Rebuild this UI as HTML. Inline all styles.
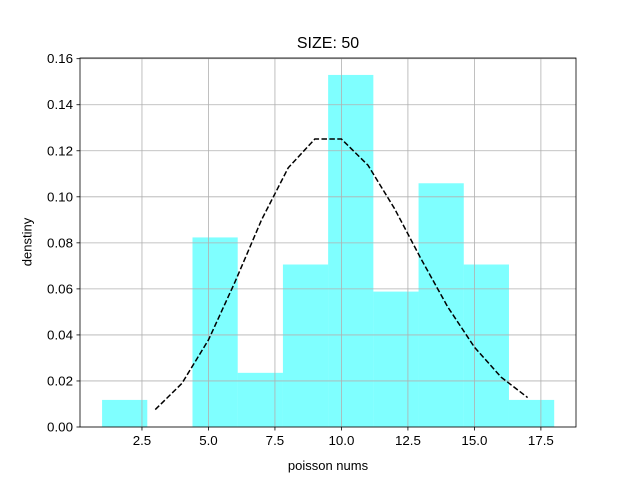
<!DOCTYPE html>
<html><head><meta charset="utf-8"><style>
body{margin:0;background:#fff}
svg{display:block;font-family:"Liberation Sans","DejaVu Sans",sans-serif}
</style></head><body>
<svg id="chart" width="640" height="480"></svg>
<script>
const binEdges=[1,2.7,4.4,6.1,7.8,9.5,11.2,12.9,14.6,16.3,18];
const binCounts=[1,0,7,2,6,13,5,9,6,1];
const sampleSize=50;
const pmfK=[3,4,5,6,7,8,9,10,11,12,13,14,15,16,17];
const pmfValues=[0.00757,0.01892,0.03783,0.06306,0.09008,0.1126,0.1251,0.1251,0.1137,0.0948,0.0729,0.0521,0.0347,0.0217,0.0128];
const xTicks=[2.5,5.0,7.5,10.0,12.5,15.0,17.5];
const xTickLabels=["2.5","5.0","7.5","10.0","12.5","15.0","17.5"];
const yTicks=[0,0.02,0.04,0.06,0.08,0.10,0.12,0.14,0.16];
const yTickLabels=["0.00","0.02","0.04","0.06","0.08","0.10","0.12","0.14","0.16"];

const L=80,R=576,T=58,B=427;
const xMin=0.17,xMax=18.82,yMin=0,yMax=0.1603;
const X=v=>L+(v-xMin)/(xMax-xMin)*(R-L);
const Y=v=>B-(v-yMin)/(yMax-yMin)*(B-T);
const svg=document.getElementById('chart');
const NS='http://www.w3.org/2000/svg';
function mk(tag,attrs,parent){const e=document.createElementNS(NS,tag);for(const k in attrs)e.setAttribute(k,attrs[k]);(parent||svg).appendChild(e);return e;}

const bars=mk('g',{});


binCounts.forEach((c,i)=>{
  const d=c/(sampleSize*(binEdges[i+1]-binEdges[i]));
  if(d<=0)return;
  const r=mk('rect',{x:X(binEdges[i]),y:Y(d),width:X(binEdges[i+1])-X(binEdges[i]),height:Y(0)-Y(d),fill:'#00ffff','fill-opacity':0.5},bars);
  
  
});
const grid=mk('g',{stroke:'#b0b0b0','stroke-width':0.8});


xTicks.forEach(t=>mk('line',{x1:X(t),x2:X(t),y1:T,y2:B},grid));
yTicks.forEach(t=>mk('line',{x1:L,x2:R,y1:Y(t),y2:Y(t)},grid));
const line=mk('polyline',{points:pmfK.map((k,i)=>X(k)+','+Y(pmfValues[i])).join(' '),fill:'none',stroke:'#000','stroke-width':1.5,'stroke-dasharray':'5.5,2.4'});


const fr=mk('rect',{x:L,y:T,width:R-L,height:B-T,fill:'none',stroke:'#000','stroke-width':0.8});


const xt=mk('g',{'font-size':'10pt',fill:'#000'});


xTicks.forEach((t,i)=>{
  mk('line',{x1:X(t),x2:X(t),y1:B,y2:B+3.5,stroke:'#000','stroke-width':0.8},xt);
  const tx=mk('text',{x:X(t),y:B+18,'text-anchor':'middle'},xt);tx.textContent=xTickLabels[i];
});
const yt=mk('g',{'font-size':'10pt',fill:'#000'});


yTicks.forEach((t,i)=>{
  mk('line',{x1:L-3.5,x2:L,y1:Y(t),y2:Y(t),stroke:'#000','stroke-width':0.8},yt);
  const tx=mk('text',{x:L-7,y:Y(t)+4.5,'text-anchor':'end'},yt);tx.textContent=yTickLabels[i];
});
</script>
<div style="position:absolute;left:0;top:0;width:640px;height:480px;pointer-events:none;font-family:'Liberation Sans','DejaVu Sans',sans-serif">
<div style="position:absolute;left:0;width:656px;top:35px;text-align:center;font-size:16px">SIZE: 50</div>
<div style="position:absolute;left:0;width:656px;top:458px;text-align:center;font-size:13px">poisson nums</div>
<div style="position:absolute;left:27px;top:242px;font-size:13px;transform:translate(-50%,-50%) rotate(-90deg);white-space:nowrap">denstiny</div>
</div>
</body></html>
